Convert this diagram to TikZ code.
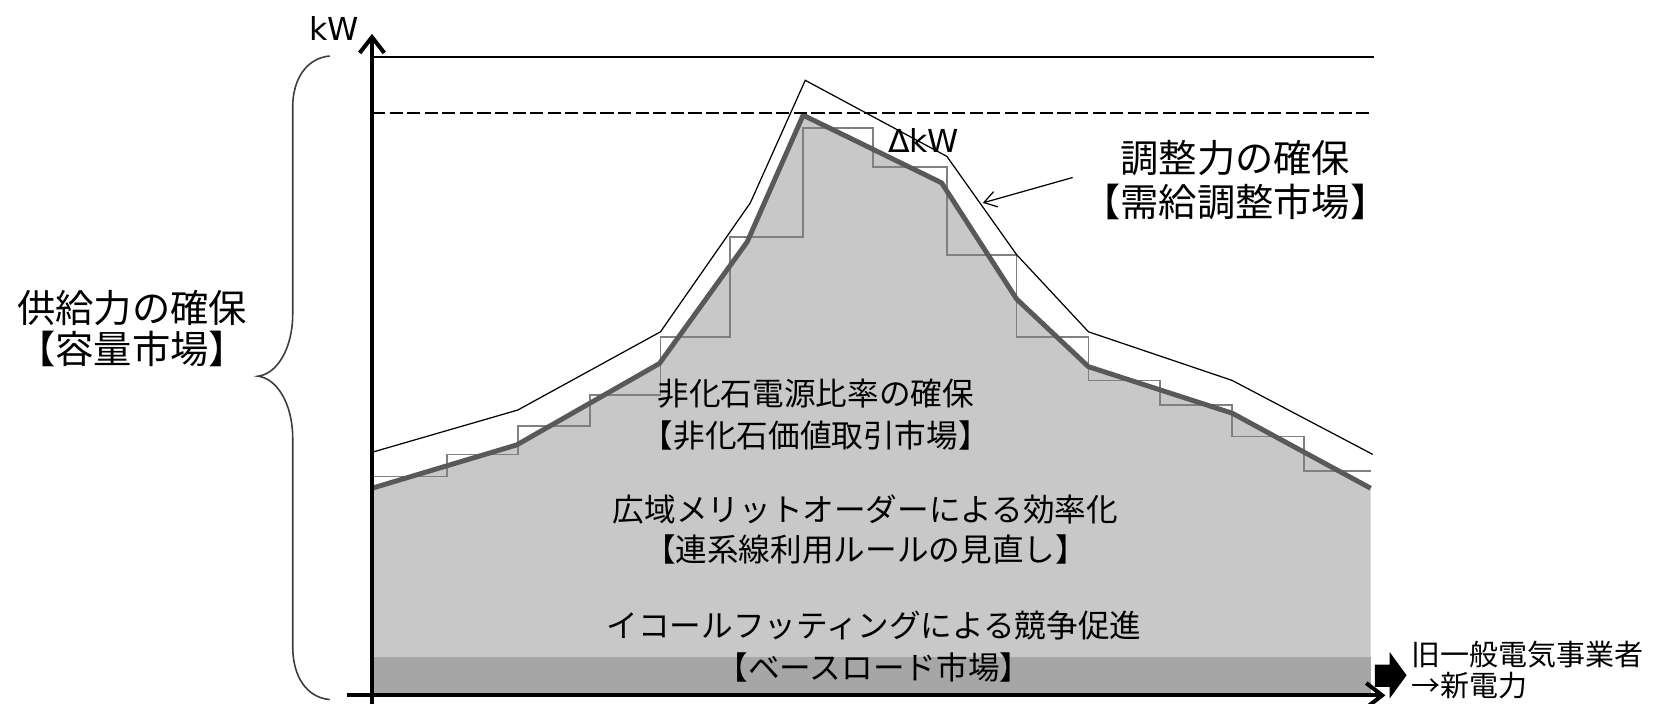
\documentclass[tikz,border=0pt]{standalone}
\usepackage{fontspec}
\setmainfont{Noto Sans CJK JP}
\newfontfamily\latinsans{DejaVu Sans}
\usetikzlibrary{arrows.meta}
\definecolor{fillgray}{RGB}{200,200,200}
\definecolor{bandgray}{RGB}{166,166,166}
\definecolor{curvegray}{RGB}{89,89,89}
\definecolor{stepgray}{RGB}{128,128,128}
\definecolor{bracegray}{RGB}{60,60,60}
\tikzset{
  axisline/.style={line width=2.3pt, black, -{Straight Barb[length=9pt,width=14pt]}},
  demandline/.style={line width=2.8pt, curvegray, line join=round},
  supplyline/.style={line width=0.7pt, black},
  stepline/.style={line width=1pt, stepgray},
  refline/.style={line width=0.9pt, black},
  bracestyle/.style={line width=0.9pt, bracegray},
  callout/.style={line width=0.7pt, black, -{Straight Barb[length=7pt,width=9pt]}},
  midtext/.style={font=\fontsize{18}{24}\selectfont, align=center, inner sep=0pt},
  sidetext/.style={font=\fontsize{21.8}{23.5}\selectfont, align=center, inner sep=0pt},
  unitlabel/.style={font=\latinsans\fontsize{18}{20}\selectfont, inner sep=0pt},
}
\begin{document}
\begin{tikzpicture}[x=0.021136cm, y=-0.021136cm]
\useasboundingbox (0,0) rectangle (1568,666);

% area under demand curve
\fill[fillgray] (352,658) -- (352,462) -- (489,421) -- (624,344) -- (707,229) -- (760,109) -- (891,173) -- (962,283) -- (1030,347) -- (1166,391) -- (1297,462) -- (1297,658) -- cycle;
\fill[bandgray] (352,622) rectangle (1297,658);

% step line
\draw[stepline] (352,451) -| (423,430) -| (490,403) -| (558,374) -| (625,319) -| (691,224) -| (760,121) -| (826,158) -| (896,241) -| (962,319) -| (1030,360) -| (1098,383) -| (1166,413) -| (1234,446) -- (1297,446);

% supply (thin) line
\draw[supplyline] (352,428) -- (490,388) -- (625,314) -- (710,192) -- (762,76) -- (896,148) -- (962,241) -- (1030,314) -- (1166,360) -- (1299,430);

% demand (thick) line
\draw[demandline] (352,462) -- (489,421) -- (624,344) -- (707,229) -- (760,109) -- (891,173) -- (962,283) -- (1030,347) -- (1166,391) -- (1297,462);

% reference lines
\draw[refline] (352,54) -- (1300,54);
\draw[refline, dash pattern=on 7.5pt off 2.5pt] (352,107) -- (1297,107);

% axes
\coordinate (ybot) at (352,666);
\coordinate (ytop) at (352,32);
\coordinate (xleft) at (328,658);
\coordinate (xright) at (1311,658);
\draw[axisline] (ybot) -- (ytop);
\draw[axisline] (xleft) -- (xright);

% block arrow
\fill[black] (1301,629) -- (1315,629) -- (1315,617) -- (1331,639) -- (1315,661) -- (1315,650) -- (1301,650) -- cycle;

% brace
\draw[bracestyle] (312,53) .. controls (290,55) and (277,75) .. (277,101) -- (277,297) .. controls (277,330) and (262,354) .. (244,356) .. controls (262,358) and (277,382) .. (277,415) -- (277,612) .. controls (277,640) and (290,660) .. (312,662);

% callout arrow
\coordinate (calloutstart) at (1015,168);
\coordinate (calloutend) at (930,192);
\draw[callout] (calloutstart) -- (calloutend);

% labels
\node[unitlabel] (kw) at (316,27) {kW};
\node[unitlabel] (dkw) at (874,133) {ΔkW};
\node[sidetext] (capacity) at (125,311) {供給力の確保\\【容量市場】};
\node[sidetext, font=\fontsize{21.8}{25}\selectfont] (balancing) at (1169,170) {調整力の確保\\【需給調整市場】};
\node[midtext] (nonfossil) at (772,392) {非化石電源比率の確保\\【非化石価値取引市場】};
\node[midtext, font=\fontsize{18}{23}\selectfont] (meritorder) at (819,501) {広域メリットオーダーによる効率化\\【連系線利用ルールの見直し】};
\node[midtext] (equalfoot) at (827,612) {イコールフッティングによる競争促進\\【ベースロード市場】};
\node[inner sep=0pt, anchor=west, align=left, font=\fontsize{16.5}{17.5}\selectfont] (newpower) at (1335,634) {旧一般電気事業者\\→新電力};
\end{tikzpicture}
\end{document}
